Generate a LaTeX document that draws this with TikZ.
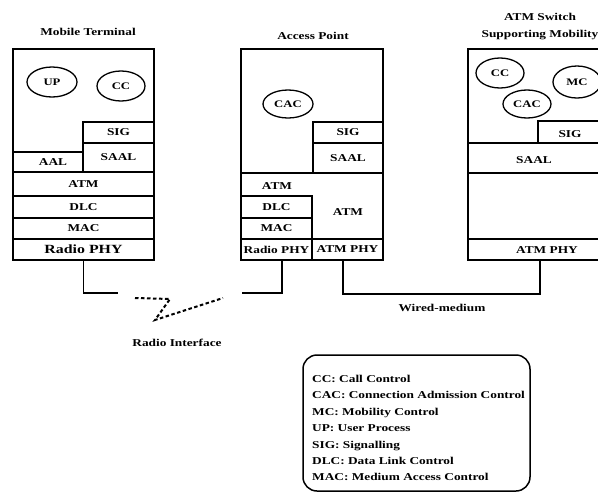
\documentclass[tikz,border=0pt]{standalone}
\usepackage{fontspec}
\setmainfont{Liberation Serif}[FakeStretch=1.27]
\usetikzlibrary{shapes.geometric}
\begin{document}
\begin{tikzpicture}[x=1pt,y=-1pt,
  every node/.style={font=\fontsize{10.5}{12}\selectfont\bfseries, inner sep=0pt},
  sz/.style 2 args={minimum width=#1, minimum height=#2},
  outer/.style={draw, line width=1.8pt},
  lay/.style={draw, line width=1.3pt},
  ell/.style={draw, ellipse, line width=1.3pt, font=\fontsize{10}{12}\selectfont\bfseries},
  wire/.style={line width=1.8pt},
  radio/.style={line width=2pt, dash pattern=on 3.5pt off 2.5pt},
  legbox/.style={draw, rounded corners=14pt, line width=1.5pt}]
\useasboundingbox (0,0) rectangle (598,493);
\clip (0,0) rectangle (598,493);

% ---------- Mobile Terminal ----------
\node (mttitle) at (88,32) {Mobile Terminal};
\node[outer, sz={141pt}{211pt}] (mt) at (83.5,154.5) {};
\node[ell, sz={50pt}{30pt}] (mtup) at (52,82) {UP};
\node[ell, sz={48pt}{30pt}] (mtcc) at (121,86) {CC};
\node[lay, sz={71pt}{21pt}] (mtsig) at (118.5,132.5) {SIG};
\node[lay, sz={71pt}{29pt}] (mtsaal) at (118.5,157.5) {SAAL};
\node[lay, sz={70pt}{20pt}] (mtaal) at (48,162) {\hspace*{10pt}AAL};
\node[lay, sz={141pt}{24pt}] (mtatm) at (83.5,184) {ATM};
\node[lay, sz={141pt}{22pt}] (mtdlc) at (83.5,207) {DLC};
\node[lay, sz={141pt}{21pt}] (mtmac) at (83.5,228.5) {MAC};
\node[lay, sz={141pt}{21pt}, font=\fontsize{12.5}{14}\selectfont\bfseries] (mtphy) at (83.5,249.5) {Radio PHY};
\node[outer, sz={141pt}{211pt}] (mtb) at (83.5,154.5) {};

% ---------- Access Point ----------
\node (aptitle) at (313,36) {Access Point};
\node[outer, sz={142pt}{211pt}] (ap) at (312,154.5) {};
\node[ell, sz={50pt}{28pt}] (apcac) at (288,104) {CAC};
\node[lay, sz={70pt}{21pt}] (apsig) at (348,132.5) {SIG};
\node[lay, sz={70pt}{30pt}] (apsaal) at (348,158) {SAAL};
\node[outer, sz={142pt}{66pt}] (apatm) at (312,206) {};
\node (apatml) at (277,186) {ATM};
\node (apatmr) at (348,212) {ATM};
\node[lay, sz={71pt}{22pt}] (apdlc) at (276.5,207) {DLC};
\node[lay, sz={71pt}{21pt}] (apmac) at (276.5,228.5) {MAC};
\node[lay, sz={71pt}{21pt}] (aprphy) at (276.5,249.5) {Radio PHY};
\node[lay, sz={71pt}{21pt}] (apaphy) at (347.5,249.5) {ATM PHY};

% ---------- ATM Switch ----------
\node[align=center, font=\fontsize{10.5}{17}\selectfont\bfseries] (swtitle) at (540,27) {ATM Switch\\Supporting Mobility};
\node[outer, sz={158pt}{211pt}] (sw) at (547,154.5) {};
\node[ell, sz={48pt}{30pt}] (swcc) at (500,73) {CC};
\node[ell, sz={48pt}{32pt}] (swmc) at (577,82) {MC};
\node[ell, sz={48pt}{28pt}] (swcac) at (527,104) {CAC};
\node[lay, sz={88pt}{22pt}] (swsig) at (582,132) {};
\node (swsigt) at (570,134) {SIG};
\node[outer, sz={158pt}{30pt}] (swsaal) at (547,158) {};
\node (swsaalt) at (534,160) {SAAL};
\node[lay, sz={158pt}{21pt}] (swphy) at (547,249.5) {};
\node (swphyt) at (547,250) {ATM PHY};

% ---------- connectors ----------
\coordinate (mtend) at (118,293);
\draw[wire] (mt.south) |- (mtend);
\coordinate (apend) at (242,293);
\draw[wire] (apend) -| ([xshift=5.5pt]aprphy.south);
\coordinate (wturn) at (540,294);
\draw[wire] ([xshift=-4.5pt]apaphy.south) |- (wturn) -- (sw.south -| wturn);

\coordinate (r1) at (135,298);
\coordinate (r2) at (170,299);
\coordinate (r3) at (155,320);
\coordinate (r4) at (223,298);
\draw[radio] (r1) -- (r2) -- (r3) -- (r4);

\node (radiol) at (177,343) {Radio Interface};
\node (wiredl) at (442,308) {Wired-medium};

% ---------- legend ----------
\node[legbox, sz={227pt}{136pt}] (leg) at (416.5,423) {};
\node[anchor=north west, align=left, font=\fontsize{10.5}{16.4}\selectfont\bfseries] (legt) at (312,375)
  {CC: Call Control\\
   CAC: Connection Admission Control\\
   MC: Mobility Control\\
   UP: User Process\\
   SIG: Signalling\\
   DLC: Data Link Control\\
   MAC: Medium Access Control};
\end{tikzpicture}
\end{document}
